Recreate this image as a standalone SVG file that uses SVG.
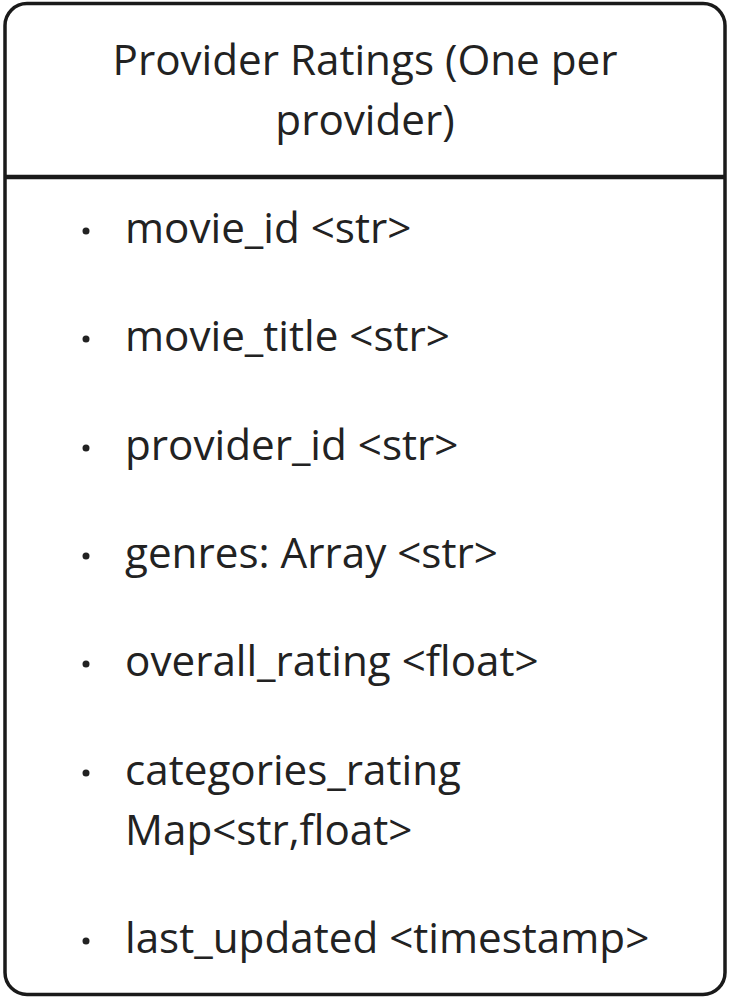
<svg xmlns="http://www.w3.org/2000/svg" width="730" height="998" viewBox="0 0 730 998">
  <style>
    .box { fill: #ffffff; stroke: #1a1a1a; stroke-width: 3.5; }
    .div { stroke: #1a1a1a; stroke-width: 4.5; }
    .t { font-family: "Open Sans", "Noto Sans", sans-serif; font-size: 42.2px; fill: #222222; }
    .title { text-anchor: middle; }
    .bullet { fill: #222222; }
  </style>
  <rect x="0" y="0" width="730" height="998" fill="#ffffff"/>
  <g id="entity-provider-ratings">
    <rect class="box" x="5" y="3.5" width="720" height="991" rx="22" ry="22"/>
    <line class="div" x1="5" y1="177" x2="725" y2="177"/>
    <text class="t title" x="365" y="75">Provider Ratings (One per</text>
    <text class="t title" x="365" y="135">provider)</text>
    <g id="fields">
      <circle class="bullet" cx="86" cy="231" r="3.5"/>
      <text class="t" x="125" y="243">movie_id &lt;str&gt;</text>
      <circle class="bullet" cx="86" cy="339" r="3.5"/>
      <text class="t" x="125" y="351">movie_title &lt;str&gt;</text>
      <circle class="bullet" cx="86" cy="448" r="3.5"/>
      <text class="t" x="125" y="460">provider_id &lt;str&gt;</text>
      <circle class="bullet" cx="86" cy="556" r="3.5"/>
      <text class="t" x="125" y="568">genres: Array &lt;str&gt;</text>
      <circle class="bullet" cx="86" cy="664" r="3.5"/>
      <text class="t" x="125" y="676">overall_rating &lt;float&gt;</text>
      <circle class="bullet" cx="86" cy="773" r="3.5"/>
      <text class="t" x="125" y="785">categories_rating</text>
      <text class="t" x="125" y="845">Map&lt;str,float&gt;</text>
      <circle class="bullet" cx="86" cy="941" r="3.5"/>
      <text class="t" x="125" y="953">last_updated &lt;timestamp&gt;</text>
    </g>
  </g>
</svg>
